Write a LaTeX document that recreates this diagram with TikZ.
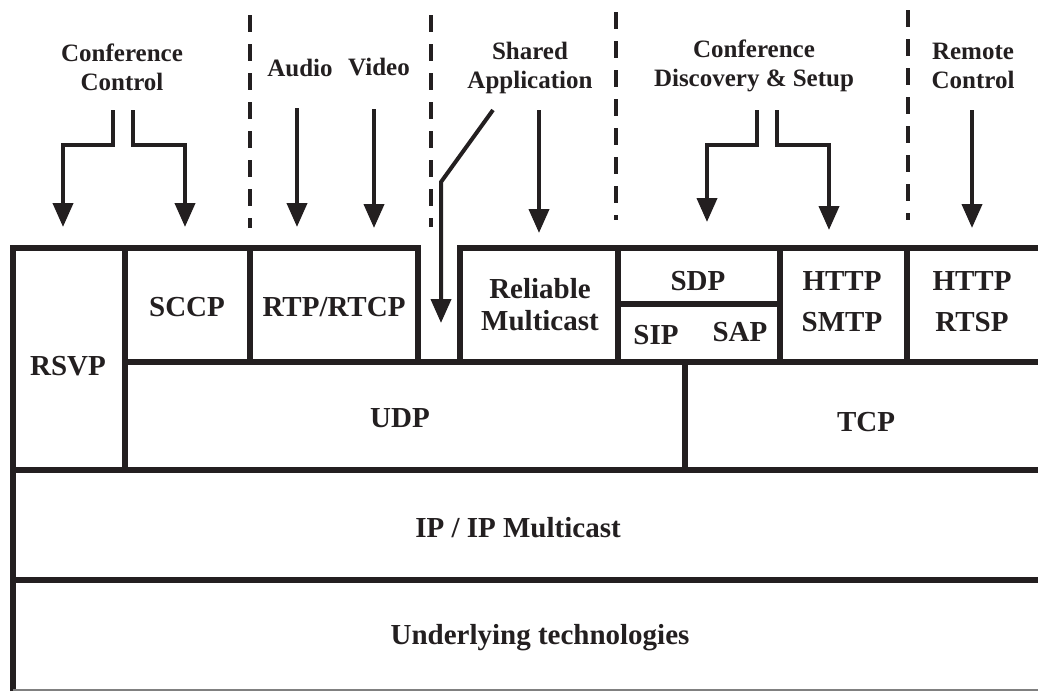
\documentclass[tikz,border=0pt]{standalone}
\usepackage{fontspec}
\setmainfont{Liberation Serif}
\usetikzlibrary{arrows.meta}
\definecolor{ink}{HTML}{231F20}
\tikzset{
  boxline/.style={draw=ink, line width=5.5pt, line join=miter},
  arr/.style={draw=ink, line width=4pt, line join=miter, -{Triangle[width=20pt,length=24pt]}},
  sep/.style={draw=ink, line width=4pt, dash pattern=on 17pt off 12pt},
  lbl/.style={text=ink, font=\fontsize{29}{34}\selectfont\bfseries, align=center, inner sep=0pt},
  hdr/.style={text=ink, font=\fontsize{25}{29}\selectfont\bfseries, align=center, inner sep=0pt}
}
\begin{document}
\begin{tikzpicture}[x=1pt,y=-1pt]
\useasboundingbox (0,0) rectangle (1038,691);
% separators
\draw[sep] (250,15) -- (250,228);
\draw[sep] (431,15) -- (431,227);
\draw[sep] (616,12) -- (616,220);
\draw[sep] (908,10) -- (908,220);
% box structure
\draw[boxline] (13,691) -- (13,248) -- (418,248) -- (418,362);
\draw[boxline] (460,362) -- (460,248) -- (1038,248);
\draw[boxline] (125,248) -- (125,470);
\draw[boxline] (250,248) -- (250,362);
\draw[boxline] (618,248) -- (618,362);
\draw[boxline] (618,304) -- (780,304);
\draw[boxline] (780,248) -- (780,362);
\draw[boxline] (907,248) -- (907,362);
\draw[boxline] (125,362) -- (1038,362);
\draw[boxline] (685,362) -- (685,470);
\draw[boxline] (13,470) -- (1038,470);
\draw[boxline] (13,580) -- (1038,580);
\draw[draw=gray, line width=1.5pt] (13,690) -- (1038,690);
% headers
\node[hdr] (cc) at (122,67) {Conference\\Control};
\node[hdr] (audio) at (300,68) {Audio};
\node[hdr] (video) at (379,67) {Video};
\node[hdr] (shared) at (530,68) {Shared\\Application};
\node[hdr] (cds) at (754,66) {Conference\\Discovery \& Setup};
\node[hdr] (rc) at (973,66) {Remote\\Control};
% arrow endpoints
\coordinate (ccA) at (63,227);
\coordinate (ccB) at (185,227);
\coordinate (auA) at (297,227);
\coordinate (viA) at (374,228);
\coordinate (shA) at (441,323);
\coordinate (shB) at (539,233);
\coordinate (cdA) at (707,222);
\coordinate (cdB) at (829,230);
\coordinate (rcA) at (972,228);
% arrows
\draw[arr] (113,110) -- (113,145) -- (63,145) -- (ccA);
\draw[arr] (133,110) -- (133,145) -- (185,145) -- (ccB);
\draw[arr] (297,108) -- (auA);
\draw[arr] (374,109) -- (viA);
\draw[arr] (493,110) -- (441,182) -- (shA);
\draw[arr] (539,110) -- (shB);
\draw[arr] (757,110) -- (757,145) -- (707,145) -- (cdA);
\draw[arr] (777,110) -- (777,145) -- (829,145) -- (cdB);
\draw[arr] (972,110) -- (rcA);
% box labels
\node[lbl] (rsvp) at (68,366) {RSVP};
\node[lbl] (sccp) at (187,307) {SCCP};
\node[lbl] (rtp) at (334,307) {RTP/RTCP};
\node[lbl, font=\fontsize{29}{32}\selectfont\bfseries] (rm) at (540,305) {Reliable\\Multicast};
\node[lbl] (sdp) at (698,281) {SDP};
\node[lbl] (sip) at (656,335) {SIP};
\node[lbl] (sap) at (740,332) {SAP};
\node[lbl, font=\fontsize{29}{41}\selectfont\bfseries] (hs) at (842,302) {HTTP\\SMTP};
\node[lbl, font=\fontsize{29}{41}\selectfont\bfseries] (hr) at (972,302) {HTTP\\RTSP};
\node[lbl] (udp) at (400,418) {UDP};
\node[lbl] (tcp) at (866,422) {TCP};
\node[lbl] (ip) at (518,528) {IP / IP Multicast};
\node[lbl] (ul) at (540,638) {Underlying technologies};
\end{tikzpicture}
\end{document}
